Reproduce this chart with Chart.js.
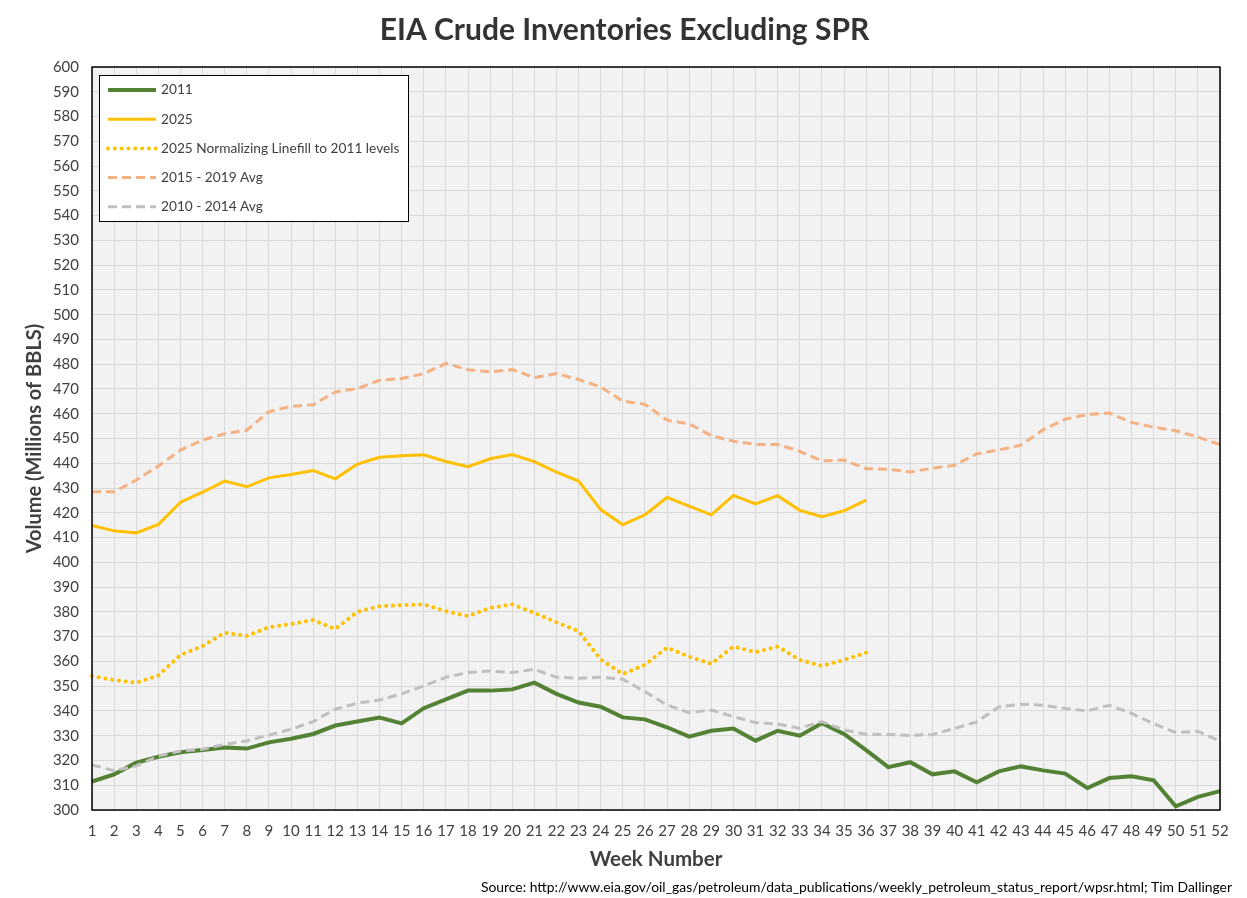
<!DOCTYPE html>
<html>
<head>
<meta charset="utf-8">
<title>EIA Crude Inventories Excluding SPR</title>
<script src="https://cdn.jsdelivr.net/npm/chart.js@4.4.1/dist/chart.umd.min.js"></script>
<style>
  html, body { margin: 0; padding: 0; background: #fff; }
</style>
</head>
<body>
<canvas id="myChart" width="1247" height="898"></canvas>
<script>
// week numbers on the x axis
var weeks = ['1', '2', '3', '4', '5', '6', '7', '8', '9', '10', '11', '12', '13',
	'14', '15', '16', '17', '18', '19', '20', '21', '22', '23', '24', '25', '26',
	'27', '28', '29', '30', '31', '32', '33', '34', '35', '36', '37', '38', '39',
	'40', '41', '42', '43', '44', '45', '46', '47', '48', '49', '50', '51', '52'];

// millions of barrels
var inv2011 = [311.5, 314.4, 319.1, 321.5, 323.3, 324.2, 325.2, 324.8, 327.3, 328.8,
	330.7, 334.1, 335.7, 337.3, 335.0, 341.1, 344.7, 348.2, 348.2, 348.7,
	351.4, 346.9, 343.4, 341.7, 337.4, 336.6, 333.4, 329.6, 332.0, 332.9,
	328.0, 332.0, 330.0, 335.0, 330.7, 324.2, 317.3, 319.3, 314.4, 315.6,
	311.2, 315.6, 317.6, 316.0, 314.7, 308.9, 312.9, 313.6, 312.0, 301.5,
	305.3, 307.6];

var inv2025 = [414.9, 412.7, 411.9, 415.3, 424.3, 428.3, 432.8, 430.5, 434.1, 435.5,
	437.1, 433.7, 439.7, 442.4, 443.0, 443.4, 440.7, 438.6, 441.8, 443.5,
	440.7, 436.4, 432.8, 421.3, 415.2, 419.2, 426.2, 422.7, 419.2, 427.0,
	423.6, 426.9, 421.0, 418.4, 420.8, 425.1];

var inv2025Norm = [354.1, 352.5, 351.4, 354.3, 362.6, 366.2, 371.6, 370.3, 373.8, 375.1,
	376.7, 373.1, 380.0, 382.3, 382.7, 383.0, 380.3, 378.3, 381.6, 383.0,
	379.6, 375.8, 372.2, 360.8, 354.9, 358.6, 365.6, 361.9, 359.0, 366.0,
	363.7, 366.0, 360.6, 358.2, 360.6, 363.5];

var avg1519 = [428.5, 428.5, 433.2, 438.9, 445.3, 449.4, 451.9, 453.4, 460.9, 463.0,
	463.6, 468.8, 470.2, 473.5, 474.2, 476.2, 480.3, 477.8, 476.9, 477.8,
	474.6, 476.2, 473.8, 470.8, 465.1, 463.8, 457.4, 455.9, 451.1, 448.9,
	447.6, 447.6, 444.8, 441.0, 441.3, 437.8, 437.6, 436.5, 438.0, 439.2,
	443.8, 445.4, 447.3, 453.5, 457.8, 459.7, 460.3, 456.5, 454.6, 453.1,
	450.6, 447.5];

var avg1014 = [318.2, 315.9, 317.8, 321.8, 323.8, 324.5, 326.5, 327.9, 330.3, 332.6,
	335.7, 340.7, 343.1, 344.4, 346.9, 350.1, 353.6, 355.5, 356.1, 355.5,
	356.8, 353.6, 353.2, 353.6, 352.8, 347.8, 342.4, 339.3, 340.4, 337.7,
	335.3, 334.7, 333.0, 335.7, 332.3, 330.6, 330.5, 330.1, 330.5, 332.9,
	335.6, 341.6, 342.7, 342.3, 341.0, 340.0, 342.3, 339.0, 334.9, 331.2,
	331.8, 327.8];

var titleText = 'EIA Crude Inventories Excluding SPR';
var sourceText = 'Source: http://www.eia.gov/oil_gas/petroleum/data_publications/weekly_petroleum_status_report/wpsr.html; Tim Dallinger';

var textColor = '#404040';
var fontFamily = 'Lato, "Open Sans", sans-serif';

// grey plot area, black frame, title centred on the page, boxed legend and source line
var chartDecor = {
	id: 'chartDecor',
	beforeDraw: function(chart) {
		var a = chart.chartArea, ctx = chart.ctx;
		ctx.save();
		ctx.fillStyle = '#ffffff';
		ctx.fillRect(0, 0, chart.width, chart.height);
		ctx.fillStyle = '#f2f2f2';
		ctx.fillRect(a.left, a.top, a.right - a.left, a.bottom - a.top);
		ctx.restore();
	},
	afterDatasetsDraw: function(chart) {
		var a = chart.chartArea, ctx = chart.ctx;
		ctx.save();
		ctx.strokeStyle = '#000000';
		ctx.lineWidth = 1.5;
		ctx.strokeRect(a.left, a.top, a.right - a.left, a.bottom - a.top);
		ctx.restore();
	},
	afterDraw: function(chart) {
		var a = chart.chartArea, ctx = chart.ctx;
		var bx = a.left + 7, by = a.top + 8;
		ctx.save();

		ctx.fillStyle = '#333333';
		ctx.font = 'bold 30px ' + fontFamily;
		ctx.textAlign = 'center';
		ctx.textBaseline = 'middle';
		ctx.fillText(titleText, chart.width / 2 + 1, 30);

		ctx.fillStyle = '#ffffff';
		ctx.fillRect(bx, by, 309, 146);
		ctx.strokeStyle = '#000000';
		ctx.lineWidth = 1;
		ctx.strokeRect(bx + 0.5, by + 0.5, 309, 146);

		chart.data.datasets.forEach(function(ds, i) {
			var y = by + 15 + i * 29.2;
			ctx.beginPath();
			ctx.strokeStyle = ds.borderColor;
			ctx.lineWidth = ds.borderWidth;
			ctx.lineCap = ds.borderCapStyle || 'butt';
			ctx.setLineDash(ds.borderDash || []);
			ctx.moveTo(bx + 9, y);
			ctx.lineTo(bx + 57, y);
			ctx.stroke();
			ctx.setLineDash([]);
			ctx.fillStyle = textColor;
			ctx.font = '13.7px ' + fontFamily;
			ctx.textAlign = 'left';
			ctx.textBaseline = 'middle';
			ctx.fillText(ds.label, bx + 62, y);
		});

		ctx.fillStyle = '#000000';
		ctx.font = '13.9px ' + fontFamily;
		ctx.textAlign = 'right';
		ctx.textBaseline = 'middle';
		ctx.fillText(sourceText, 1232, 888);
		ctx.restore();
	}
};

var chartConfig = {
	type: 'line',
	data: {
		labels: weeks,
		datasets: [{
			label: '2011',
			data: inv2011,
			borderColor: '#548235',
			borderWidth: 4,
			order: 5
		}, {
			label: '2025',
			data: inv2025,
			borderColor: '#ffc000',
			borderWidth: 3,
			order: 4
		}, {
			label: '2025 Normalizing Linefill to 2011 levels',
			data: inv2025Norm,
			borderColor: '#ffc000',
			borderWidth: 4,
			borderDash: [0.01, 6.8],
			borderCapStyle: 'round',
			order: 3
		}, {
			label: '2015 - 2019 Avg',
			data: avg1519,
			borderColor: '#f4b183',
			borderWidth: 3,
			borderDash: [9, 5],
			order: 2
		}, {
			label: '2010 - 2014 Avg',
			data: avg1014,
			borderColor: '#bfbfbf',
			borderWidth: 3,
			borderDash: [9, 5],
			order: 1
		}]
	},
	options: {
		responsive: false,
		animation: false,
		devicePixelRatio: 1,
		layout: { padding: { left: 0, right: 27, top: 67, bottom: 0 } },
		elements: {
			point: { radius: 0, hoverRadius: 0 },
			line: { tension: 0, fill: false }
		},
		plugins: {
			legend: { display: false },
			tooltip: { enabled: false },
			title: { display: false }
		},
		scales: {
			x: {
				type: 'category',
				offset: false,
				grid: { color: '#d9d9d9', drawTicks: false },
				border: { display: false },
				ticks: {
					color: textColor,
					font: { family: fontFamily, size: 15 },
					padding: 12,
					autoSkip: false,
					maxRotation: 0
				},
				title: {
					display: true,
					text: 'Week Number',
					color: textColor,
					font: { family: fontFamily, size: 20.5, weight: 'bold' },
					padding: { top: 0, bottom: 26 }
				},
				afterFit: function(scale) { scale.height = 88; }
			},
			y: {
				min: 300,
				max: 600,
				grid: { color: '#d9d9d9', drawTicks: false },
				border: { display: false },
				ticks: {
					stepSize: 10,
					color: textColor,
					font: { family: fontFamily, size: 15 },
					padding: 13
				},
				title: {
					display: true,
					text: 'Volume (Millions of BBLS)',
					color: textColor,
					font: { family: fontFamily, size: 20, weight: 'bold' },
					padding: { top: 23, bottom: 0 }
				},
				afterFit: function(scale) { scale.width = 92; }
			}
		}
	},
	plugins: [chartDecor]
};

var ctx = document.getElementById('myChart').getContext('2d');
var myChart = new Chart(ctx, chartConfig);
</script>
</body>
</html>
